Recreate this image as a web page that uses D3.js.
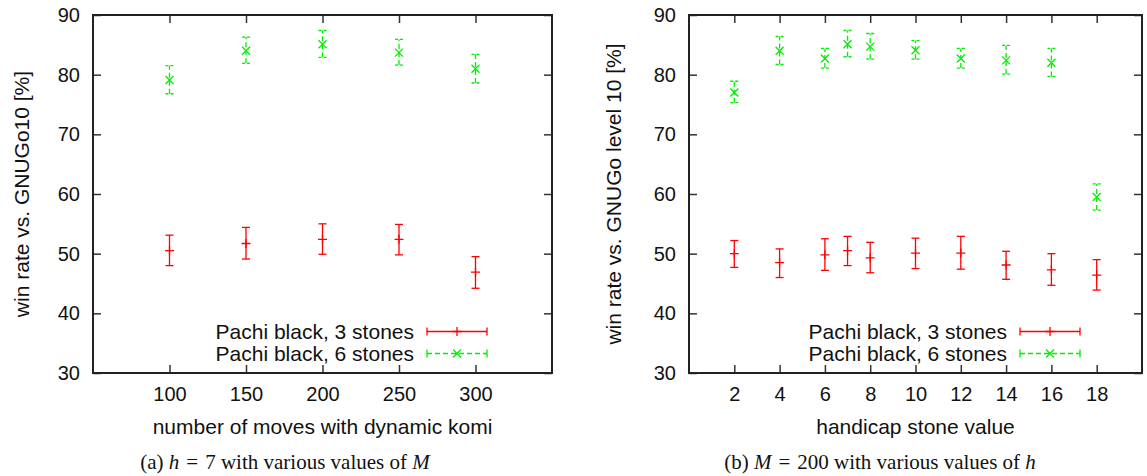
<!DOCTYPE html>
<html>
<head>
<meta charset="utf-8">
<script src="https://cdn.jsdelivr.net/npm/d3@7"></script>
<style>
  body { margin: 0; background: #fff; }
  svg { display: block; }
  text { font-family: "Liberation Sans", Arial, sans-serif; fill: #111; }
  .cap { font-family: "Liberation Serif", "Times New Roman", serif; }
</style>
</head>
<body>
<script>
// panel (a): h = 7, various M
var movesA = [100, 150, 200, 250, 300];
var s3A    = [50.5, 51.7, 52.4, 52.4, 46.9];
var s3ALo  = [48.0, 49.1, 49.9, 49.8, 44.2];
var s3AHi  = [53.1, 54.4, 55.0, 54.9, 49.5];
var s6A    = [79.1, 84.0, 85.1, 83.7, 81.0];
var s6ALo  = [76.8, 81.9, 82.9, 81.6, 78.6];
var s6AHi  = [81.5, 86.3, 87.4, 85.9, 83.4];
var ticksA = [100, 150, 200, 250, 300];

// panel (b): M = 200, various h
var stonesB = [2, 4, 6, 7, 8, 10, 12, 14, 16, 18];
var s3B    = [50.0, 48.5, 49.8, 50.5, 49.3, 50.1, 50.1, 48.1, 47.3, 46.4];
var s3BLo  = [47.7, 46.0, 47.2, 48.0, 46.8, 47.5, 47.4, 45.7, 44.7, 43.9];
var s3BHi  = [52.2, 50.8, 52.5, 52.9, 51.9, 52.6, 52.9, 50.4, 50.0, 49.0];
var s6B    = [77.0, 84.0, 82.7, 85.1, 84.7, 84.1, 82.7, 82.4, 82.0, 59.5];
var s6BLo  = [75.3, 81.7, 81.1, 83.0, 82.6, 82.6, 81.1, 80.1, 79.7, 57.3];
var s6BHi  = [78.9, 86.4, 84.4, 87.4, 86.9, 85.7, 84.4, 84.9, 84.4, 61.7];
var ticksB = [2, 4, 6, 8, 10, 12, 14, 16, 18];

var yTicks = [30, 40, 50, 60, 70, 80, 90];
var seriesNames = ["Pachi black, 3 stones", "Pachi black, 6 stones"];

var red = "#ff0000", green = "#00ee00";

var svg = d3.select("body").append("svg")
  .attr("width", 1147).attr("height", 476);

function zip(xs, v, lo, hi) {
  return xs.map(function(x, i) { return {x: x, v: v[i], lo: lo[i], hi: hi[i]}; });
}

function plus(cx, cy) {
  return "M" + (cx - 4.5) + "," + cy + "H" + (cx + 4.5) + "M" + cx + "," + (cy - 4.5) + "V" + (cy + 4.5);
}
function cross(cx, cy) {
  return "M" + (cx - 4) + "," + (cy - 4) + "L" + (cx + 4) + "," + (cy + 4) +
         "M" + (cx - 4) + "," + (cy + 4) + "L" + (cx + 4) + "," + (cy - 4);
}

function drawPanel(o) {
  var g = svg.append("g");
  var x = d3.scaleLinear().domain(o.xDomain).range([o.left, o.right]);
  var y = d3.scaleLinear().domain([30, 90]).range([373, 15]);

  // ticks (inward, on all four sides)
  g.append("g").attr("transform", "translate(0,373)")
    .call(d3.axisBottom(x).tickValues(o.xTicks).tickSize(-8).tickPadding(14))
    .call(function(a) { a.select(".domain").remove(); });
  g.append("g").attr("transform", "translate(0,15)")
    .call(d3.axisTop(x).tickValues(o.xTicks).tickSize(-8).tickFormat(""))
    .call(function(a) { a.select(".domain").remove(); });
  g.append("g").attr("transform", "translate(" + o.left + ",0)")
    .call(d3.axisLeft(y).tickValues(yTicks).tickSize(-8).tickPadding(13))
    .call(function(a) { a.select(".domain").remove(); });
  g.append("g").attr("transform", "translate(" + o.right + ",0)")
    .call(d3.axisRight(y).tickValues(yTicks).tickSize(-8).tickFormat(""))
    .call(function(a) { a.select(".domain").remove(); });
  g.selectAll(".tick line").attr("stroke", "#333").attr("stroke-width", 1.5);
  g.selectAll(".tick text").style("font-size", "20px").attr("fill", "#111");

  g.append("rect")
    .attr("x", o.left).attr("y", 15)
    .attr("width", o.right - o.left).attr("height", 358)
    .attr("fill", "none").attr("stroke", "#222").attr("stroke-width", 2);

  // error bars
  function bars(data, color, dash, marker) {
    var s = g.append("g").attr("stroke", color).attr("stroke-width", 1.3).attr("fill", "none");
    var e = s.selectAll("g").data(data).enter().append("g");
    e.append("line")
      .attr("x1", function(d) { return x(d.x); }).attr("x2", function(d) { return x(d.x); })
      .attr("y1", function(d) { return y(d.lo); }).attr("y2", function(d) { return y(d.hi); })
      .attr("stroke-dasharray", dash);
    ["lo", "hi"].forEach(function(k) {
      e.append("line")
        .attr("x1", function(d) { return x(d.x) - 4; }).attr("x2", function(d) { return x(d.x) + 4; })
        .attr("y1", function(d) { return y(d[k]); }).attr("y2", function(d) { return y(d[k]); })
        .attr("stroke-dasharray", dash ? "3,2" : null);
    });
    e.append("path")
      .attr("d", function(d) { return marker(x(d.x), y(d.v)); });
  }
  bars(o.s3, red, null, plus);
  bars(o.s6, green, "5,3", cross);

  // legend
  var leg = [{name: seriesNames[0], color: red, dash: null, marker: plus, y: 331.5},
             {name: seriesNames[1], color: green, dash: "5,3", marker: cross, y: 353.5}];
  leg.forEach(function(l) {
    g.append("text").attr("x", o.legX).attr("y", l.y).attr("dy", "0.35em")
      .attr("text-anchor", "end").style("font-size", "21px").text(l.name);
    var x0 = o.legX + 13, x1 = o.legX + 73, xm = (x0 + x1) / 2;
    var lg = g.append("g").attr("stroke", l.color).attr("stroke-width", 1.3).attr("fill", "none");
    lg.append("line").attr("x1", x0).attr("x2", x1).attr("y1", l.y).attr("y2", l.y)
      .attr("stroke-dasharray", l.dash);
    lg.append("line").attr("x1", x0).attr("x2", x0).attr("y1", l.y - 4).attr("y2", l.y + 4);
    lg.append("line").attr("x1", x1).attr("x2", x1).attr("y1", l.y - 4).attr("y2", l.y + 4);
    lg.append("path").attr("d", l.marker(xm, l.y));
  });

  // axis titles
  g.append("text").attr("x", (o.left + o.right) / 2).attr("y", 427).attr("dy", "0.35em")
    .attr("text-anchor", "middle").style("font-size", "21px").text(o.xLabel);
  g.append("text")
    .attr("transform", "translate(" + o.yLabelX + ",194) rotate(-90)")
    .attr("dy", "0.35em").attr("text-anchor", "middle").style("font-size", "21px").text(o.yLabel);

  // caption
  var c = g.append("text").attr("class", "cap").attr("x", o.capX).attr("y", 462).attr("dy", "0.35em")
    .attr("text-anchor", "middle").style("font-size", "21px");
  o.caption.forEach(function(p) {
    c.append("tspan").attr("font-style", p[1] ? "italic" : null).text(p[0]);
  });
}

drawPanel({
  left: 93, right: 552, xDomain: [50, 350], xTicks: ticksA,
  s3: zip(movesA, s3A, s3ALo, s3AHi), s6: zip(movesA, s6A, s6ALo, s6AHi),
  legX: 414, xLabel: "number of moves with dynamic komi",
  yLabel: "win rate vs. GNUGo10 [%]", yLabelX: 22, capX: 285,
  caption: [["(a) ", false], ["h", true], ["\u2004=\u20047 with various values of ", false], ["M", true]]
});
drawPanel({
  left: 689, right: 1142, xDomain: [0, 20], xTicks: ticksB,
  s3: zip(stonesB, s3B, s3BLo, s3BHi), s6: zip(stonesB, s6B, s6BLo, s6BHi),
  legX: 1007, xLabel: "handicap stone value",
  yLabel: "win rate vs. GNUGo level 10 [%]", yLabelX: 614, capX: 880,
  caption: [["(b) ", false], ["M", true], ["\u2004=\u2004200 with various values of ", false], ["h", true]]
});
</script>
</body>
</html>
